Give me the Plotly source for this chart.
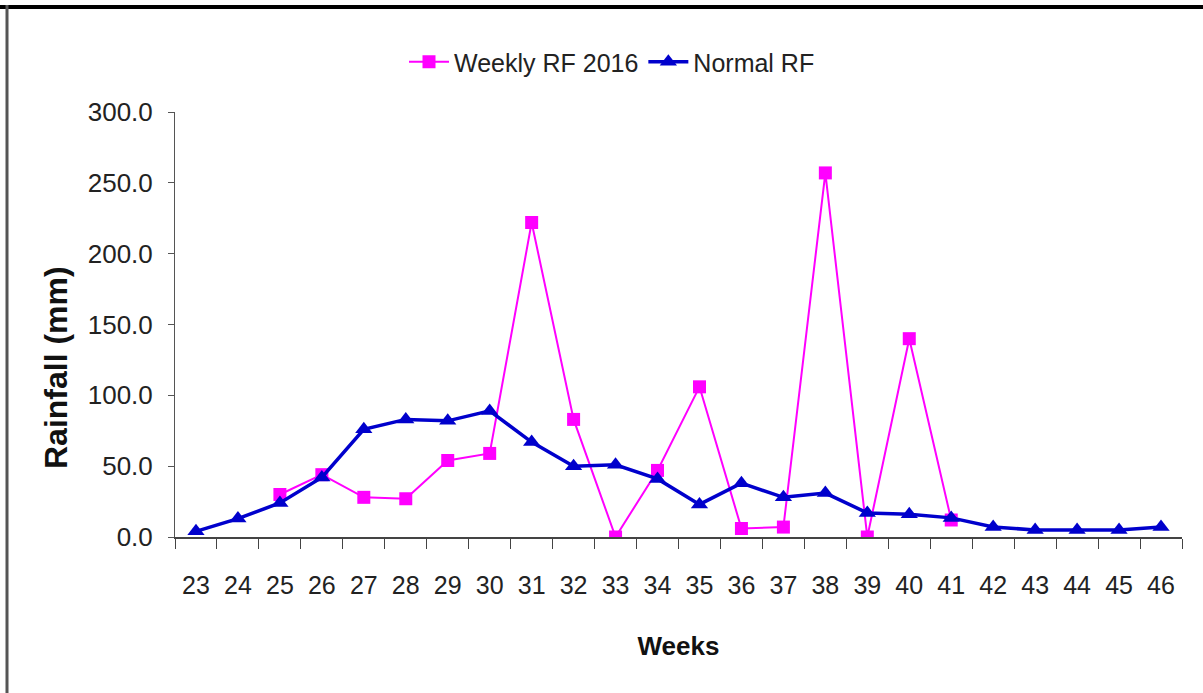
import plotly.graph_objects as go

weeks = [str(w) for w in range(23, 47)]
weekly_rf_2016 = [None, None, 30.0, 44.0, 28.0, 27.0, 54.0, 59.0, 222.0, 83.0, 0.0, 47.0,
                  106.0, 6.0, 7.0, 257.0, 0.0, 140.0, 12.0, None, None, None, None, None]
normal_rf = [4.0, 13.0, 24.0, 42.0, 76.0, 83.0, 82.0, 89.0, 67.0, 50.0, 51.0, 41.0,
             23.0, 38.0, 28.0, 31.0, 17.0, 16.0, 13.5, 7.0, 5.0, 5.0, 5.0, 7.0]

FONT = "Arial, 'Liberation Sans', sans-serif"

fig = go.Figure()
fig.add_trace(go.Scatter(
    x=weeks, y=weekly_rf_2016, name="Weekly RF 2016", mode="lines+markers",
    line=dict(color="#FF00FF", width=2),
    marker=dict(symbol="square", size=13, color="#FF00FF"),
))
fig.add_trace(go.Scatter(
    x=weeks, y=normal_rf, name="Normal RF", mode="lines+markers",
    line=dict(color="#0000CC", width=3.5),
    marker=dict(symbol="triangle-up", size=15, color="#0000CC"),
))

L, R, T, B = 175, 21, 112, 156
W, H = 1203, 693
pw, ph = W - L - R, H - T - B

def px(x):
    return (x - L) / pw

def py(y):
    return (H - B - y) / ph

fig.update_layout(
    width=W, height=H,
    margin=dict(l=L, r=R, t=T, b=B, autoexpand=False),
    paper_bgcolor="white", plot_bgcolor="white",
    font=dict(family=FONT, size=25, color="#222"),
    showlegend=True,
    legend=dict(orientation="h", x=px(612), xanchor="center", y=py(62), yanchor="middle",
                font=dict(size=25, color="#222"), bgcolor="rgba(0,0,0,0)",
                itemwidth=40, tracegroupgap=0),
    shapes=[
        dict(type="line", xref="paper", yref="paper", x0=px(0), x1=px(W), y0=py(7), y1=py(7),
             line=dict(color="black", width=4)),
        dict(type="line", xref="paper", yref="paper", x0=px(7), x1=px(7), y0=py(5), y1=py(H),
             line=dict(color="#555", width=3)),
    ],
    annotations=[
        dict(text="<b>Rainfall (mm)</b>", textangle=-90, xref="paper", yref="paper",
             x=px(56), y=py(368), xanchor="center", yanchor="middle", showarrow=False,
             font=dict(size=32, color="#111")),
    ],
)
fig.update_xaxes(
    type="category", range=[-0.5, len(weeks) - 0.5], showgrid=False, showline=True,
    linecolor="#444", linewidth=2,
    ticks="outside", ticklen=10, tickcolor="#444", tickson="boundaries",
    ticklabelstandoff=25, tickfont=dict(size=25, color="#222"),
    title=dict(text="<b>Weeks</b>", font=dict(size=26, color="#111"), standoff=39),
    automargin=False,
)
fig.update_yaxes(
    range=[0, 300], dtick=50, tickformat=".1f", showgrid=False, zeroline=False,
    showline=True, linecolor="#555", linewidth=1,
    ticks="outside", ticklen=6, tickcolor="#555", ticklabelstandoff=10,
    tickfont=dict(size=26, color="#222"),
    automargin=False,
)

fig.write_html("out.html", config={"displayModeBar": False},
               post_script="document.body.style.margin='0px';")
